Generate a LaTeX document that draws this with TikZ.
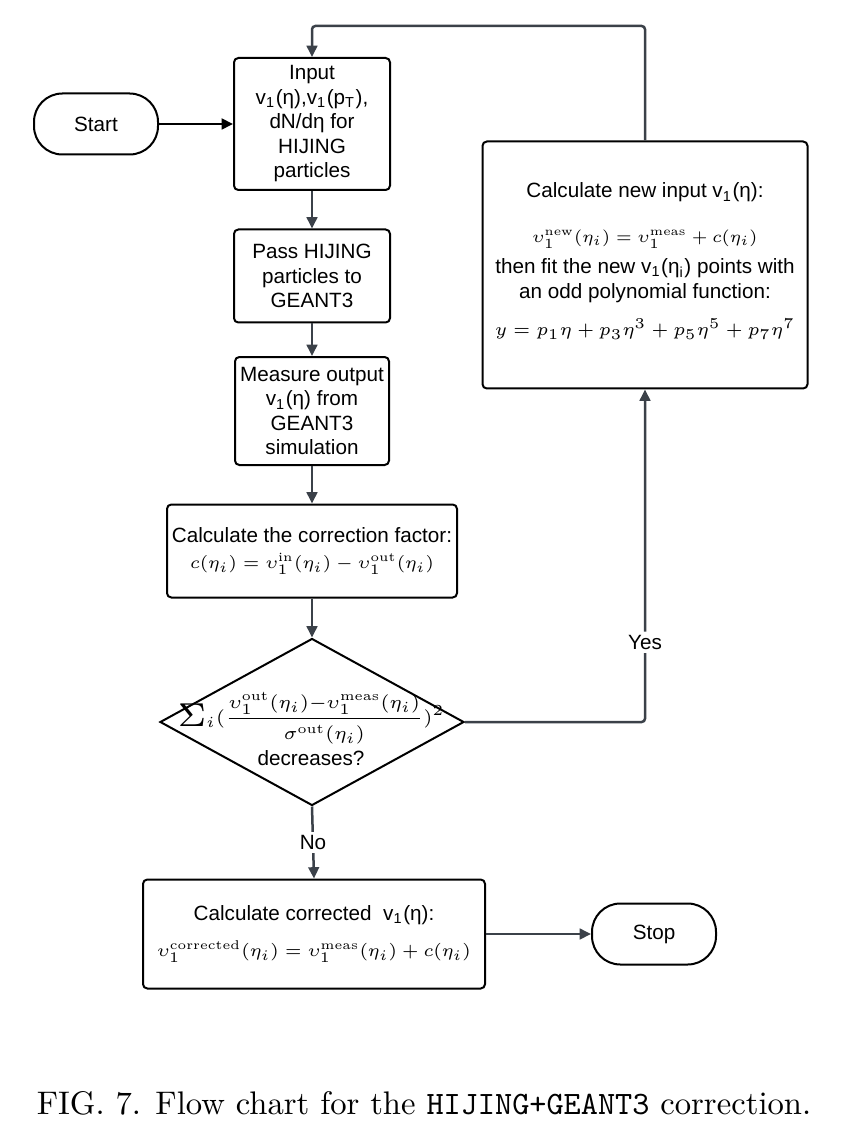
\documentclass[tikz,border=0pt]{standalone}
\usepackage{amsmath}
\usepackage{fontspec}
\newfontfamily\boxfont{Liberation Sans}
\usetikzlibrary{shapes.geometric, arrows.meta}
\definecolor{linegray}{HTML}{3B4149}

\newcommand{\vsub}{v\textsubscript{1}}
\newcommand{\fm}[2][0.87]{\scalebox{#1}{$#2$}}

\tikzset{
    block/.style={draw=black, line width=0.6pt, rounded corners=1.3pt, align=center,
        inner sep=0pt, font=\boxfont\fontsize{6.2}{7.35}\selectfont},
    terminal/.style={draw=black, line width=0.6pt, rounded corners=8.5pt,
        minimum width=37.2pt, minimum height=18.3pt, font=\boxfont\fontsize{6.2}{7.35}\selectfont},
    decision/.style={diamond, draw=black, line width=0.6pt, inner sep=0pt,
        minimum width=91.2pt, minimum height=50.1pt},
    flow/.style={draw=linegray, line width=0.75pt, -{Triangle[length=3.4pt, width=3.2pt]}},
    lbl/.style={fill=white, inner sep=1pt, font=\boxfont\fontsize{6.2}{7.35}\selectfont}
}

\begin{document}
\begin{tikzpicture}[x=0.3pt, y=-0.3pt]
        \useasboundingbox (0,0) rectangle (844,1134);

        % left column
        \node[terminal] (start) at (96,124) {Start};
        \node[block, minimum width=46.8pt, minimum height=39.6pt] (input) at (312,124)
            {Input\\ \vsub(η),\vsub(p\textsubscript{T}),\\ dN/dη for\\ HIJING\\ particles};
        \node[block, minimum width=46.8pt, minimum height=27.9pt] (pass) at (312,276)
            {Pass HIJING\\ particles to\\ GEANT3};
        \node[block, minimum width=46.2pt, minimum height=32.4pt] (measure) at (312,411)
            {Measure output\\ \vsub(η) from\\ GEANT3\\ simulation};
        \node[block, minimum width=87pt, minimum height=27.9pt] (corr) at (312,551)
            {Calculate the correction factor:\\[0.5pt]
             \fm{c(\eta_i) = \upsilon_1^{\mathrm{in}}(\eta_i) - \upsilon_1^{\mathrm{out}}(\eta_i)}};
        \node[decision] (dec) at (312,722) {};
        \node[align=center, inner sep=0pt, font=\boxfont\fontsize{6.2}{7.35}\selectfont] (dectext) at (311,729)
            {\fm[0.92]{\raisebox{-0.9pt}{\scalebox{1.8}{$\Sigma$}}_i(\dfrac{\upsilon_1^{\mathrm{out}}(\eta_i){-}\upsilon_1^{\mathrm{meas}}(\eta_i)}{\sigma^{\mathrm{out}}(\eta_i)})^2}\\[1pt]
             decreases?};
        \node[block, minimum width=102.6pt, minimum height=32.7pt] (corrected) at (314,934)
            {Calculate corrected \ \vsub(η):\\[3.5pt]
             \fm[0.88]{\upsilon_1^{\mathrm{corrected}}(\eta_i) = \upsilon_1^{\mathrm{meas}}(\eta_i) + c(\eta_i)}};
        \node[terminal] (stop) at (654,934) {Stop};

        % right column
        \node[block, minimum width=97.5pt, minimum height=74.1pt] (newin) at (645,265)
            {Calculate new input \vsub(η):\\[6pt]
             \fm[0.84]{\upsilon_1^{\mathrm{new}}(\eta_i) = \upsilon_1^{\mathrm{meas}} + c(\eta_i)}\\[2pt]
             then fit the new \vsub(η\textsubscript{i}) points with\\
             an odd polynomial function:\\[4pt]
             \fm[0.9]{y = p_1\eta + p_3\eta^3 + p_5\eta^5 + p_7\eta^7}\\[-4pt]};

        % connectors
        \draw[line width=0.8pt, -{Triangle[length=3.4pt, width=3.2pt]}] (start) -- (input);
        \draw[flow] (input) -- (pass);
        \draw[flow] (pass) -- (measure);
        \draw[flow] (measure) -- (corr);
        \draw[flow] (corr) -- (dec);
        \draw[flow] (dec.south) -- node[lbl] (no) {No} (corrected.north);
        \draw[flow] (corrected.east) -- (stop.west);
        \draw[flow, rounded corners=1pt] (dec.east) -| node[lbl, pos=0.62] (yes) {Yes} (newin.south);
        \draw[flow, rounded corners=1pt] (newin.north) -- (newin.north |- 0,26) -| (input.north);

        % caption
        \node[font=\fontsize{9.8}{12}\selectfont] (caption) at (424,1103)
            {FIG. 7. Flow chart for the \texttt{HIJING+GEANT3} correction.};
\end{tikzpicture}
\end{document}
